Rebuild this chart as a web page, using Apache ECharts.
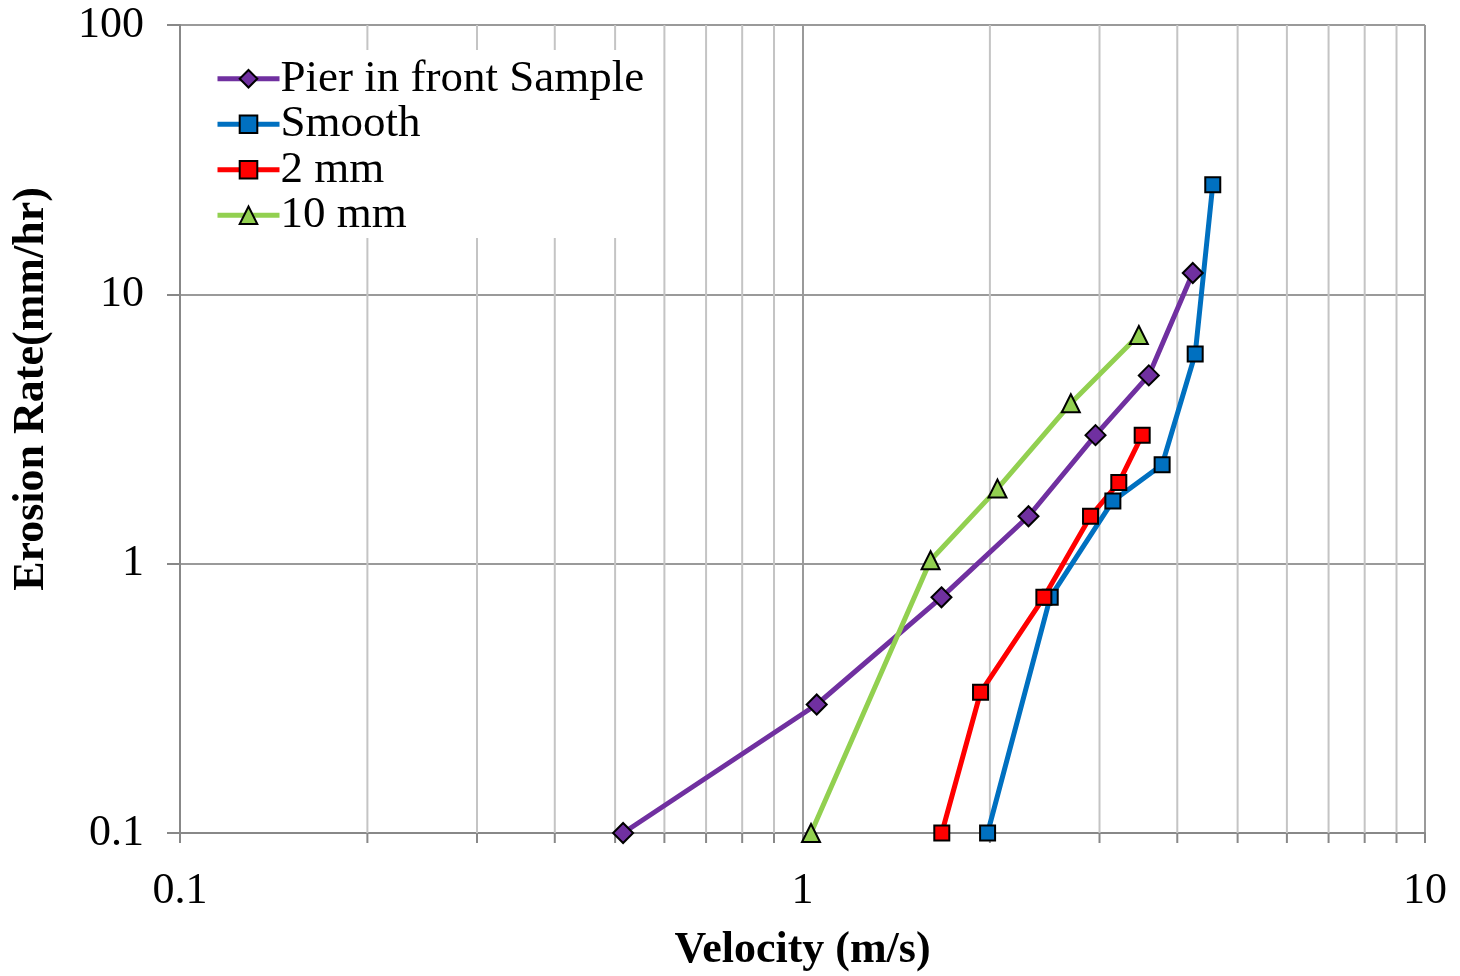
<!DOCTYPE html>
<html>
<head>
<meta charset="utf-8">
<script src="https://cdn.jsdelivr.net/npm/echarts@6/dist/echarts.min.js"></script>
<style>
html,body{margin:0;padding:0;background:#fff;}
#chart{width:1460px;height:976px;}
</style>
</head>
<body>
<div id="chart"></div>
<script>
// ---- data ----
const seriesNames = ['Pier in front Sample', 'Smooth', '2 mm', '10 mm'];
const pierVelocity = [0.515, 1.054, 1.672, 2.307, 2.956, 3.60, 4.236];
const pierRate     = [0.1,   0.3,   0.75,  1.5,   3,     5,    12];
const smoothVelocity = [1.983, 2.50, 3.152, 3.782, 4.274, 4.561];
const smoothRate     = [0.1,   0.75, 1.71,  2.33,  6,     25.5];
const mm2Velocity = [1.674, 1.932, 2.442, 2.902, 3.222, 3.513];
const mm2Rate     = [0.1,   0.333, 0.75,  1.5,   2.0,   3];
const mm10Velocity = [1.032, 1.606, 2.057, 2.698, 3.47];
const mm10Rate     = [0.1,   1.03,  1.9,   3.94,  7.06];
const xMinorTicks = [0.2,0.3,0.4,0.5,0.6,0.7,0.8,0.9,2,3,4,5,6,7,8,9];
const yRange = [0.1, 100];
const xRange = [0.1, 10];

const zip = (a, b) => a.map((v, i) => [v, b[i]]);
const fontFam = '"Liberation Serif", "Times New Roman", serif';

const chart = echarts.init(document.getElementById('chart'), null, {renderer: 'canvas'});

function mkSeries(name, xs, ys, color, symbol, size) {
  return {
    name: name,
    type: 'line',
    data: zip(xs, ys),
    symbol: symbol,
    symbolSize: size,
    lineStyle: {color: color, width: 5},
    itemStyle: {color: color, borderColor: '#000', borderWidth: 2},
    z: 5,
    animation: false
  };
}

const option = {
  backgroundColor: '#fff',
  animation: false,
  grid: {left: 180, right: 35, top: 25, bottom: 143, containLabel: false, outerBoundsMode: 'none'},
  xAxis: {
    type: 'log', logBase: 10, min: xRange[0], max: xRange[1],
    axisLine: {show: true, lineStyle: {color: '#888', width: 2}},
    axisTick: {show: true, inside: false, length: 10, lineStyle: {color: '#888', width: 2}},
    splitLine: {show: true, lineStyle: {color: '#9a9a9a', width: 2}},
    axisLabel: {
      margin: 36, color: '#000', fontSize: 44, fontFamily: fontFam,
      formatter: v => String(Number(v.toPrecision(3)))
    },
    name: 'Velocity (m/s)', nameLocation: 'middle', nameGap: 96,
    nameTextStyle: {color: '#000', fontSize: 44, fontWeight: 'bold', fontFamily: fontFam}
  },
  yAxis: {
    type: 'log', logBase: 10, min: yRange[0], max: yRange[1],
    axisLine: {show: true, lineStyle: {color: '#888', width: 2}},
    axisTick: {show: true, inside: false, length: 13, lineStyle: {color: '#888', width: 2}},
    splitLine: {show: true, lineStyle: {color: '#9a9a9a', width: 2}},
    axisLabel: {
      margin: 36, color: '#000', fontSize: 44, fontFamily: fontFam,
      formatter: v => String(Number(v.toPrecision(3)))
    }
  },
  legend: {
    data: seriesNames,
    orient: 'vertical',
    left: 200, top: 50,
    padding: [6, 8, 0, 15],
    backgroundColor: '#fff',
    itemWidth: 62, itemHeight: 22, itemGap: 0,
    lineStyle: {width: 5},
    textStyle: {color: '#000', fontSize: 45, fontFamily: fontFam, lineHeight: 45.5, padding: [0, 0, 0, -4]},
    z: 10
  },
  graphic: [{
    type: 'text',
    x: 32, y: 389,
    rotation: Math.PI / 2,
    style: {
      text: 'Erosion Rate(mm/hr)',
      fill: '#000',
      font: 'bold 44px "Liberation Serif", "Times New Roman", serif',
      textAlign: 'center', textVerticalAlign: 'middle'
    },
    z: 10
  }],
  series: [
    {
      name: 'minorGrid',
      type: 'custom',
      silent: true,
      clip: false,
      z: 1,
      data: xMinorTicks.map(v => [v, yRange[0]]),
      encode: {x: 0, y: 1},
      renderItem: function (params, api) {
        const v = api.value(0);
        const top = api.coord([v, yRange[1]]);
        const bot = api.coord([v, yRange[0]]);
        return {
          type: 'group',
          children: [
            {type: 'line', shape: {x1: top[0], y1: top[1], x2: bot[0], y2: bot[1]},
             style: {stroke: '#c4c4c4', lineWidth: 2}},
            {type: 'line', shape: {x1: bot[0], y1: bot[1], x2: bot[0], y2: bot[1] + 10},
             style: {stroke: '#888', lineWidth: 2}}
          ]
        };
      }
    },
    mkSeries(seriesNames[0], pierVelocity, pierRate, '#7030A0', 'diamond', 20),
    mkSeries(seriesNames[1], smoothVelocity, smoothRate, '#0070C0', 'rect', 15),
    mkSeries(seriesNames[2], mm2Velocity, mm2Rate, '#FF0000', 'rect', 15),
    mkSeries(seriesNames[3], mm10Velocity, mm10Rate, '#92D050', 'triangle', 18)
  ]
};
chart.setOption(option);
</script>
</body>
</html>
